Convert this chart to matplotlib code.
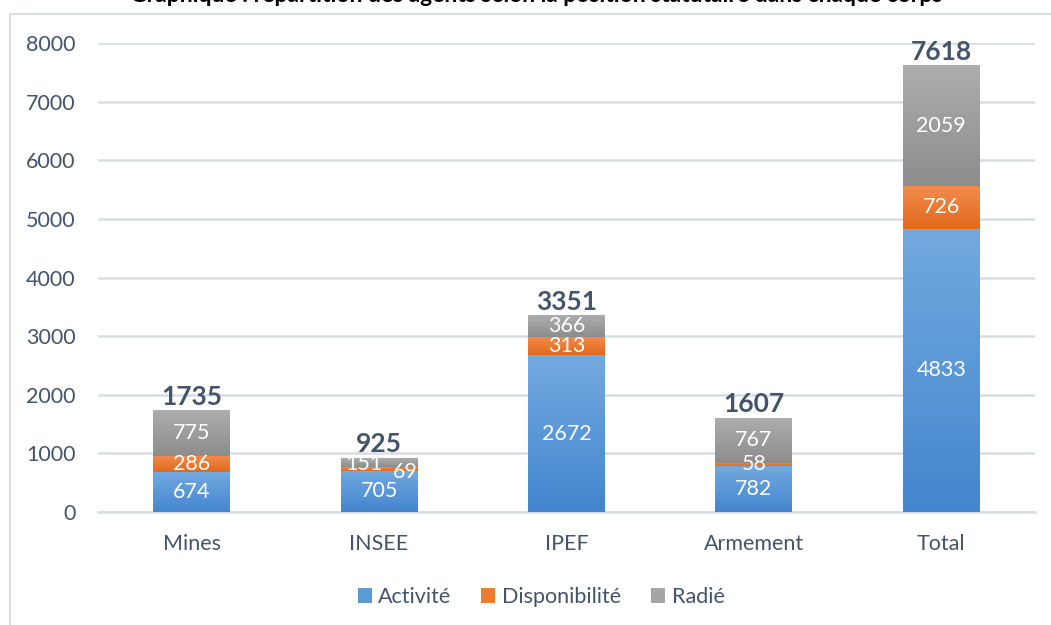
import matplotlib
matplotlib.use("Agg")
import matplotlib.pyplot as plt
import numpy as np
from matplotlib.patches import Rectangle, Patch
from matplotlib.colors import LinearSegmentedColormap

plt.rcParams['font.family'] = ['Lato', 'DejaVu Sans']

categories = ["Mines", "INSEE", "IPEF", "Armement", "Total"]
activite = [674, 705, 2672, 782, 4833]
disponibilite = [286, 69, 313, 58, 726]
radie = [775, 151, 366, 767, 2059]
series_names = ["Activité", "Disponibilité", "Radié"]
yticks = [0, 1000, 2000, 3000, 4000, 5000, 6000, 7000, 8000]

title = "Graphique : répartition des agents selon la position statutaire dans chaque corps"

grad = {
    "Activité": ("#72a9df", "#4386cf"),
    "Disponibilité": ("#f28c4e", "#e2691b"),
    "Radié": ("#adadad", "#8d8d8d"),
}
solid = {"Activité": "#5b9bd5", "Disponibilité": "#ed7d31", "Radié": "#a5a5a5"}
text_col = "#44546a"
grid_col = "#d9dde3"

fig = plt.figure(figsize=(10.51, 6.25), dpi=100)
ax = fig.add_axes([98/1051, 1-512/625, (1035-98)/1051, (512-43)/625])

# chart frame
fig.patches.append(Rectangle((10/1051, -0.1), 1.2, 1-14/625+0.1, transform=fig.transFigure,
                             fill=False, edgecolor="#dbe0e7", linewidth=1.5, zorder=0))
fig.text(0.51, 1-2/625, title, ha="center", va="baseline", fontsize=16.5,
         fontweight="bold", color="black")

x = np.arange(len(categories))
w = 0.41
bottoms = np.zeros(len(categories))
all_bars = []
for name, vals in zip(series_names, [activite, disponibilite, radie]):
    bars = ax.bar(x, vals, w, bottom=bottoms, color=solid[name], zorder=2, linewidth=0)
    cmap = LinearSegmentedColormap.from_list(name, [grad[name][1], grad[name][0]])
    for b in bars:
        x0, y0 = b.get_x(), b.get_y()
        ax.imshow(np.linspace(0, 1, 64).reshape(-1, 1), cmap=cmap, origin="lower",
                  extent=(x0, x0 + b.get_width(), y0, y0 + b.get_height()),
                  aspect="auto", zorder=3, interpolation="bilinear")
    all_bars.append((name, bars, vals))
    bottoms = bottoms + np.array(vals)

# segment labels
for name, bars, vals in all_bars:
    for i, (b, v) in enumerate(zip(bars, vals)):
        cx = b.get_x() + b.get_width() / 2
        cy = b.get_y() + b.get_height() / 2
        if categories[i] == "INSEE" and name == "Radié":
            cx -= 0.08
            cy = b.get_y() + b.get_height() * 0.35
        if categories[i] == "INSEE" and name == "Disponibilité":
            cx += 0.14
            cy -= 60
        ax.text(cx, cy, f"{v}", ha="center", va="center", color="white",
                fontsize=15.5, zorder=5)

# totals
for i, t in enumerate(bottoms):
    ax.text(x[i], t + 25, f"{int(t)}", ha="center", va="bottom", color=text_col,
            fontsize=19, fontweight="bold", zorder=5)

ax.set_xlim(-0.5, len(categories) - 0.5)
ax.set_ylim(0, 8000)
ax.set_yticks(yticks)
ax.set_yticklabels([str(t) for t in yticks])
ax.set_xticks(x)
ax.set_xticklabels(categories)
ax.tick_params(axis="both", length=0, labelsize=15.5, labelcolor=text_col)
ax.tick_params(axis="y", pad=16)
ax.tick_params(axis="x", pad=16)
ax.grid(axis="y", color=grid_col, linewidth=1.8, zorder=0)
ax.set_axisbelow(True)
for s in ["top", "right", "left"]:
    ax.spines[s].set_visible(False)
ax.spines["bottom"].set_color(grid_col)
ax.spines["bottom"].set_linewidth(1.8)

handles = [Patch(facecolor=solid[n], label=n) for n in series_names]
fig.legend(handles=handles, loc="center", bbox_to_anchor=(541/1051, 1-597/625), ncol=3,
           frameon=False, fontsize=15.5, labelcolor=text_col, handlelength=0.65,
           handleheight=0.65, handletextpad=0.3, columnspacing=1.4)

fig.savefig("out.png", dpi=100)
